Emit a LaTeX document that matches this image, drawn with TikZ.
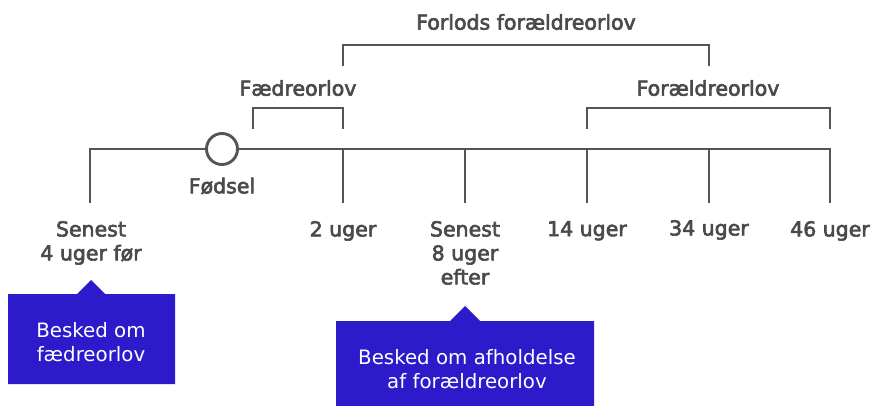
\documentclass[tikz,border=0pt]{standalone}
\usepackage{fontspec}
\setmainfont{DejaVu Sans}
\newfontfamily\medfont[FakeBold=3]{DejaVu Sans}
\definecolor{linegray}{HTML}{555555}
\definecolor{txtgray}{HTML}{4A4A4A}
\definecolor{boxblue}{HTML}{2C1ACB}
\begin{document}
\begin{tikzpicture}[x=1pt,y=-1pt,
  tl/.style={line width=2.9pt,draw=linegray},
  lbl/.style={font=\medfont\fontsize{20.5}{24}\selectfont,text=txtgray,align=center,inner sep=0pt},
  boxtxt/.style={font=\fontsize{19.8}{24.5}\selectfont,text=white,align=center,inner sep=0pt},
  bluefill/.style={fill=boxblue,draw=none}]
\useasboundingbox (0,0) rectangle (872,406);
% ticks
\coordinate (t0) at (90,149);
\coordinate (t2) at (343,149);
\coordinate (t8) at (465,149);
\coordinate (t14) at (587,149);
\coordinate (t34) at (709,149);
\coordinate (t46) at (830,149);
\node[circle,minimum size=31pt,inner sep=0pt,line width=2.9pt,draw=linegray] (birth) at (222,149) {};
\draw[tl] (t0 |- 0,203) -- (t0) -- (birth.west);
\draw[tl] (birth.east) -- (t46) -- (t46 |- 0,203);
\foreach \t in {t2,t8,t14,t34} \draw[tl] (\t) -- (\t |- 0,203);
% brackets
\draw[tl] (253,129) -- (253,108) -- (343,108) -- (343,129);
\draw[tl] (343,66) -- (343,45) -- (709,45) -- (709,66);
\draw[tl] (587,129) -- (587,108) -- (830,108) -- (830,129);
\node[lbl] (lf) at (298,88) {Fædreorlov};
\node[lbl] (lfl) at (526,22) {Forlods forældreorlov};
\node[lbl] (lfo) at (708,88) {Forældreorlov};
\node[lbl] (lb) at (222,186) {Fødsel};
\node[lbl,anchor=north] (l0) at (91,221) {Senest\\4 uger før};
\node[lbl,anchor=north] (l2) at (343,221) {2 uger};
\node[lbl,anchor=north] (l8) at (465,221) {Senest\\8 uger\\efter};
\node[lbl,anchor=north] (l14) at (587,221) {14 uger};
\node[lbl,anchor=north] (l34) at (709,220) {34 uger};
\node[lbl,anchor=north] (l46) at (830,221) {46 uger};
% boxes
\fill[bluefill] (8,294) -- (77,294) -- (91,280) -- (105,294) -- (175,294) -- (175,384) -- (8,384) -- cycle;
\node[boxtxt] (b1) at (91,342) {Besked om\\fædreorlov};
\fill[bluefill] (336,321) -- (450,321) -- (465,306) -- (480,321) -- (594,321) -- (594,406) -- (336,406) -- cycle;
\node[boxtxt] (b2) at (467,369) {Besked om afholdelse\\af forældreorlov};
\end{tikzpicture}
\end{document}
